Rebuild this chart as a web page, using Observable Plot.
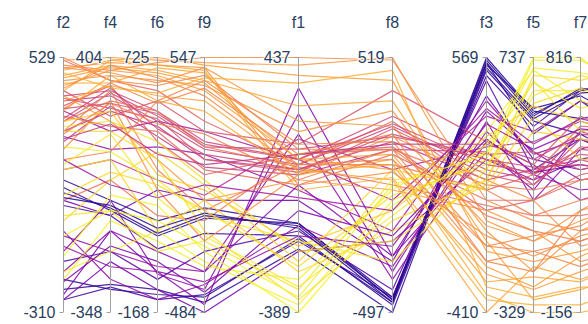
<!DOCTYPE html>
<html><head><meta charset="utf-8">
<script src="https://cdn.jsdelivr.net/npm/d3@7"></script>
<script src="https://cdn.jsdelivr.net/npm/@observablehq/plot@0.6"></script>
<style>html,body{margin:0;padding:0;background:#fff;overflow:hidden}svg{overflow:hidden}</style>
</head><body><div id="chart"></div>
<script>
// dimensions in display order (f10 continues past the right edge)
const dims = ["f2","f4","f6","f9","f1","f8","f3","f5","f7","f10"];
const axisMin = [-310,-348,-168,-484,-389,-497,-410,-329,-156,-200];
const axisMax = [529,404,725,547,437,519,569,737,816,800];

const f2 = [101,126,42,-201,-234,-268,-142, -251,-109,-58,-268,59,269,353,-176,-42, 403,386,319,286,420,252,370,520,336,160, 520,504,487,470,453,529,437,420,386,353,403,286,227,59,193,495,319, -176,-125,9,302,319,160,235,-201,286,-8,
  68,84,-92,-209,193,361,328,395,261,462,445,495,428,479,361,277,177,76,-58];
const f4 = [-47,-17,-62,-280,-265,-273,-168, -107,-17,-168,-198,-62,133,186,-107,-250, 306,291,299,246,231,261,321,336,201,103, 404,366,396,381,351,336,366,396,321,351,216,306,276,43,126,389,276, -168,-2,-47,216,246,103,126,-77,186,43,
  -32,-40,-213,-152,28,269,314,254,208,374,329,359,381,314,329,269,178,66,-47];
const f6 = [100,153,55,-105,-88,-123,-52, -25,-34,-7,-88,261,412,502,46,-123, 537,502,520,484,573,448,430,609,466,296, 716,707,725,680,645,627,662,698,591,573,368,332,261,171,573,698,537, 118,207,46,430,314,118,296,82,368,395,
  127,109,-25,11,234,529,475,511,386,671,689,636,654,600,564,493,234,279,153];
const f9 = [-103,-61,-164,-422,-443,-412,-237, -453,-391,-319,-484,-30,155,248,-319,-371, 207,176,186,135,248,104,73,289,93,-10, 526,547,516,454,434,475,413,495,372,330,-30,-72,-195,-113,454,506,186, -278,-237,-195,52,11,-30,-92,-298,-154,32,
  -82,-92,-360,-402,32,196,155,135,114,444,485,506,392,465,423,238,-175,-72,-216];
const f1 = [-100,-100,-141,-149,-183,-158,-125, 338,255,189,-191,-26,7,107,24,-108, 107,90,140,74,156,57,123,90,24,173, 412,437,379,280,197,140,107,7,74,57,41,90,57,123,156,231,82, -364,-389,-315,-191,-174,-257,-158,-282,-348,-224,
  -116,-108,-141,-59,-17,107,74,65,123,107,65,24,90,354,123,41,-306,-240,-339];
const f8 = [-446,-436,-467,-456,-497,-436,-406, -273,-334,-365,-213,-294,-172,-50,-273,-314, 285,245,204,184,387,153,163,265,133,72, 519,509,428,346,306,153,72,41,31,113,-9,92,204,153,184,245,11, -50,-70,31,-213,-91,-172,-294,-9,-131,72,
  -456,-446,-233,-192,-91,255,214,235,174,133,92,62,113,468,214,153,-111,-30,11];
const f3 = [559,540,520,569,549,500,481, 363,324,246,177,422,403,344,207,285, 177,138,197,99,246,207,-18,60,21,226, -58,21,-175,-136,-97,-214,-263,-361,-410,-341,-18,60,99,80,-155,-77,1, 177,207,138,99,266,80,138,285,99,60,
  530,549,314,256,373,158,177,119,236,-234,-293,-116,-155,-312,-214,-38,236,158,197];
const f5 = [502,524,471,513,417,449,268, 343,140,289,225,311,332,428,183,247, 247,225,343,268,289,204,140,247,140,385, -31,55,-116,-276,-158,-73,-233,-297,-137,-329,12,76,140,183,-73,-31,76, 726,737,598,662,534,492,641,684,577,428,
  481,492,353,257,375,257,279,204,311,-222,-180,-94,-9,-265,-158,12,630,545,694];
const f7 = [690,670,524,583,651,690,505, 349,466,272,427,388,505,651,534,311, 466,534,388,427,592,505,369,554,349,573, 233,155,77,-69,155,116,0,-127,-30,-156,38,272,97,349,19,194,213, 806,816,690,729,573,427,534,651,748,505,
  680,699,544,408,583,447,408,476,524,58,-39,136,174,-59,233,116,622,699,758];
const f10 = [700,550,400,600,500,720,400, 350,500,300,450,400,400,550,550,300, 420,460,400,350,500,450,380,520,350,500, 250,160,100,-50,200,150,20,-100,0,-160,50,280,100,350,50,220,220, 700,650,600,750,500,400,550,580,680,450,
  680,650,500,350,520,400,350,420,480,100,0,150,250,-100,300,150,650,620,700];
const colorValue = [.02,.05,.08,.04,.06,.1,.14, .25,.28,.3,.22,.2,.32,.35,.27,.3, .5,.48,.52,.45,.55,.47,.58,.6,.62,.4, .75,.72,.78,.8,.74,.7,.77,.82,.79,.81,.76,.68,.73,.66,.71,.76,.65, .97,.99,.95,.93,.9,.92,.96,.98,.94,.91,
  .03,.07,.3,.24,.34,.52,.5,.56,.44,.78,.8,.74,.72,.82,.7,.68,.96,.93,.98];

// layout: horizontal slot of each axis
const slot = {f2:0,f4:1,f6:2,f9:3,f1:5,f8:7,f3:9,f5:10,f7:11,f10:12};
const cols = {f2,f4,f6,f9,f1,f8,f3,f5,f7,f10};

const pts = [];
colorValue.forEach((c, i) => dims.forEach((d, j) => pts.push({
  id: i, c, x: slot[d],
  y: (cols[d][i] - axisMin[j]) / (axisMax[j] - axisMin[j])
})));

const axes = dims.slice(0, 9).map((d, j) => ({
  name: d, x: slot[d], top: 1, bottom: 0,
  maxLabel: String(axisMax[j]), minLabel: String(axisMin[j])
}));

const txt = "#2a3f5f";
const chart = Plot.plot({
  width: 588, height: 324,
  marginLeft: 63, marginRight: 8, marginTop: 57, marginBottom: 12,
  x: {domain: [0, 11], axis: null},
  y: {domain: [0, 1], axis: null},
  color: {type: "linear", scheme: "plasma", domain: [0, 1]},
  style: {fontFamily: "'Liberation Sans', Arial, sans-serif", fontSize: "16px", background: "white", overflow: "hidden"},
  marks: [
    Plot.line(pts, {x: "x", y: "y", z: "id", stroke: "c", strokeWidth: 1.2, strokeOpacity: 0.85}),
    Plot.ruleX(axes, {x: "x", y1: "bottom", y2: "top", stroke: "#a0a0a0", strokeWidth: 1}),
    Plot.link(axes, {x1: d => d.x - 0.085, x2: "x", y1: "top", y2: "top", stroke: "#a0a0a0"}),
    Plot.link(axes, {x1: d => d.x - 0.085, x2: "x", y1: "bottom", y2: "bottom", stroke: "#a0a0a0"}),
    Plot.text(axes, {x: "x", y: "top", text: "name", dy: -35, fill: txt, fontSize: 16}),
    Plot.text(axes, {x: "x", y: "top", text: "maxLabel", dx: -8, textAnchor: "end", fill: txt, fontSize: 16, stroke: "white", strokeWidth: 2.5, strokeOpacity: 0.8}),
    Plot.text(axes, {x: "x", y: "bottom", text: "minLabel", dx: -8, textAnchor: "end", fill: txt, fontSize: 16, stroke: "white", strokeWidth: 2.5, strokeOpacity: 0.8})
  ]
});
document.getElementById("chart").appendChild(chart);
</script>
</body></html>
